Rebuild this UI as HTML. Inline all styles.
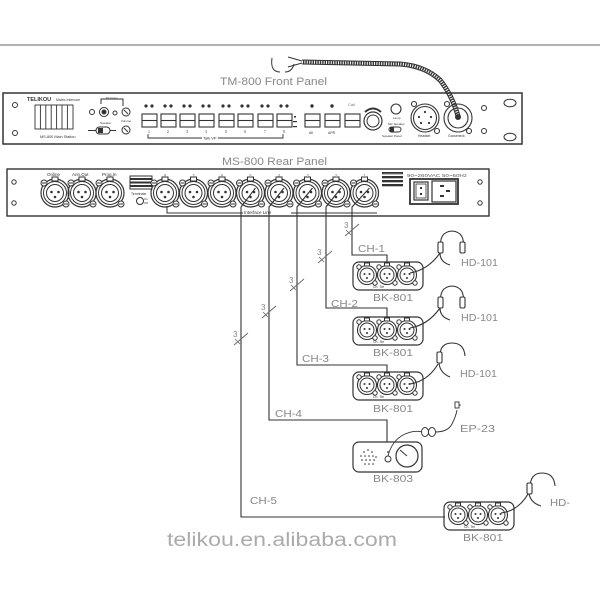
<!DOCTYPE html>
<html><head><meta charset="utf-8"><style>
html,body{margin:0;padding:0;background:#fff;}
svg{display:block;}
text{font-family:"Liberation Sans",sans-serif;}
</style></head><body>
<svg width="600" height="600" viewBox="0 0 600 600" xmlns="http://www.w3.org/2000/svg">
<defs>
  <g id="xr" fill="none" stroke="#333" stroke-width="1">
    <circle r="14" stroke-width="1.2"/>
    <circle r="11.5"/>
    <circle r="8.5"/>
    <rect x="-3" y="-16" width="6" height="4" fill="#fff"/>
    <circle cx="-11" cy="-10" r="3" fill="#fff"/>
    <line x1="-13" y1="-10" x2="-9" y2="-10"/>
    <circle cx="11" cy="11" r="3" fill="#fff"/>
    <line x1="9" y1="11" x2="13" y2="11"/>
    <circle cx="-3.5" cy="-1" r="1.3" fill="#333" stroke="none"/>
    <circle cx="3.5" cy="-1" r="1.3" fill="#333" stroke="none"/>
    <circle cx="0" cy="4" r="1.3" fill="#333" stroke="none"/>
  </g>
  <g id="bc" fill="none" stroke="#333" stroke-width="1">
    <circle r="9.5" stroke-width="1.1"/>
    <circle r="7"/>
    <rect x="-2.5" y="-12" width="5" height="3" fill="#fff"/>
    <circle cx="-8" cy="-8" r="2.2" fill="#fff"/>
    <circle cx="8" cy="8" r="2.2" fill="#fff"/>
    <circle cx="-2.5" cy="-1" r="1" fill="#333" stroke="none"/>
    <circle cx="2.5" cy="-1" r="1" fill="#333" stroke="none"/>
    <circle cx="0" cy="3" r="1" fill="#333" stroke="none"/>
  </g>
  <g id="bt" fill="none" stroke="#333" stroke-width="1.1">
    <rect x="0" y="0" width="15" height="13"/>
    <line x1="0" y1="6.5" x2="15" y2="6.5"/>
    <circle cx="4" cy="-8" r="1.6" fill="#333" stroke="none"/>
    <circle cx="10" cy="-8" r="1.6" fill="#333" stroke="none"/>
  </g>
  <g id="bk">
    <rect x="0" y="0" width="70" height="28" rx="6" fill="none" stroke="#333" stroke-width="1.2"/>
    <use href="#bc" x="14" y="13"/>
    <use href="#bc" x="34" y="13"/>
    <use href="#bc" x="54" y="13"/>
    <text x="20" y="26" font-size="3.5" fill="#333">Ch. Ter</text>
  </g>
  <g id="hs" fill="none" stroke="#333" stroke-width="1.1">
    <path d="M441,250 Q438,232 452,231 Q466,232 463,250"/>
    <rect x="438" y="242" width="5" height="11" rx="1.5" fill="#fff"/>
    <rect x="460" y="242" width="5" height="11" rx="1.5" fill="#fff"/>
    <path d="M440,253 Q440,262 450,265"/>
  </g>
  <g id="tk">
    <line x1="-7" y1="6" x2="7" y2="-6" stroke="#666" stroke-width="0.9"/>
    <line x1="-1" y1="5" x2="-6" y2="0" stroke="#666" stroke-width="0.8"/>
    <text x="-8" y="-2" font-size="8" fill="#888">3</text>
  </g>
</defs>

<!-- top line -->
<line x1="0" y1="45" x2="600" y2="45" stroke="#666" stroke-width="1"/>

<!-- Gooseneck mic -->
<path d="M302,62 L400,64 Q425,66 440,80 Q452,95 458,116" fill="none" stroke="#333" stroke-width="5"/>
<path d="M302,62 L400,64 Q425,66 440,80 Q452,95 458,116" fill="none" stroke="#fff" stroke-width="3" stroke-dasharray="1 1.4"/>
<path d="M272,58 Q270,72 280,72 M285,72 Q292,72 294,64" fill="none" stroke="#333" stroke-width="1"/>
<path d="M288,57 L302,61 M288,67 L302,63" fill="none" stroke="#333" stroke-width="1"/>

<text x="220" y="85" font-size="11" fill="#888" textLength="107" lengthAdjust="spacingAndGlyphs">TM-800 Front Panel</text>

<!-- FRONT PANEL -->
<rect x="3" y="93" width="519" height="51" fill="none" stroke="#333" stroke-width="1.5"/>
<circle cx="15" cy="105" r="2.5" fill="none" stroke="#333"/>
<circle cx="15" cy="133" r="2.5" fill="none" stroke="#333"/>
<text x="27" y="101" font-size="5.5" font-weight="bold" fill="#333">TELIKOU</text>
<text x="56" y="101" font-size="3.5" fill="#333">Matrix Intercom</text>
<g fill="none" stroke="#333" stroke-width="0.9">
  <rect x="35" y="105" width="38" height="24"/>
  <line x1="40.4" y1="105" x2="40.4" y2="129"/>
  <line x1="45.8" y1="105" x2="45.8" y2="129"/>
  <line x1="51.2" y1="105" x2="51.2" y2="129"/>
  <line x1="56.6" y1="105" x2="56.6" y2="129"/>
  <line x1="62" y1="105" x2="62" y2="129"/>
  <line x1="67.4" y1="105" x2="67.4" y2="129"/>
</g>
<text x="40" y="138" font-size="3.8" fill="#333">MS-800 Main Station</text>
<!-- left controls -->
<g fill="none" stroke="#333" stroke-width="1">
  <circle cx="92" cy="112" r="2.5"/>
  <circle cx="104" cy="112" r="4.5"/>
  <circle cx="104" cy="112" r="2" fill="#333"/>
  <circle cx="115" cy="113" r="2"/>
  <path d="M101,104 V99 H123 V106"/>
  <circle cx="126" cy="112" r="4"/>
  <line x1="124" y1="110" x2="128" y2="114"/>
  <rect x="96" y="127" width="14" height="7" rx="3.5"/>
  <line x1="88" y1="130.5" x2="96" y2="130.5"/>
  <line x1="110" y1="130.5" x2="116" y2="130.5"/>
  <circle cx="126" cy="130" r="4"/>
  <line x1="124" y1="128" x2="128" y2="132"/>
</g>
<rect x="98" y="128" width="5" height="5" fill="#333"/>
<text x="100" y="124" font-size="3" fill="#333">Speaker</text>
<text x="121" y="122" font-size="3" fill="#333">Volume</text>
<text x="106" y="99" font-size="3" fill="#333">Program</text>

<!-- talk buttons -->
<use href="#bt" x="142" y="114"/>
<use href="#bt" x="161" y="114"/>
<use href="#bt" x="180" y="114"/>
<use href="#bt" x="199" y="114"/>
<use href="#bt" x="219" y="114"/>
<use href="#bt" x="238" y="114"/>
<use href="#bt" x="258" y="114"/>
<use href="#bt" x="277" y="114"/>
<g font-size="4.5" fill="#777" text-anchor="middle">
  <text x="149" y="133">1</text><text x="168" y="133">2</text><text x="187" y="133">3</text><text x="206" y="133">4</text>
  <text x="226" y="133">5</text><text x="245" y="133">6</text><text x="265" y="133">7</text><text x="284" y="133">8</text>
</g>
<path d="M148,134 V138 H283 V134" fill="none" stroke="#333" stroke-width="0.9"/>
<rect x="202" y="135" width="16" height="5" fill="#fff"/>
<text x="203" y="139.5" font-size="4" fill="#333">Talk  VP</text>
<g fill="#333">
  <rect x="294" y="116" width="2" height="1.5"/>
  <rect x="293" y="121" width="4" height="1.2"/>
  <rect x="293" y="126" width="4" height="1.2"/>
</g>
<!-- all/apr/call buttons -->
<g fill="none" stroke="#333" stroke-width="1.1">
  <rect x="305" y="114" width="15" height="13"/><line x1="305" y1="120.5" x2="320" y2="120.5"/>
  <rect x="325" y="114" width="15" height="13"/><line x1="325" y1="120.5" x2="340" y2="120.5"/>
  <rect x="345" y="114" width="15" height="13"/><line x1="345" y1="120.5" x2="360" y2="120.5"/>
</g>
<circle cx="312" cy="106" r="1.7" fill="#333"/>
<circle cx="332" cy="106" r="1.7" fill="#333"/>
<text x="348" y="106" font-size="4" fill="#777">Call</text>
<text x="309" y="134" font-size="3.5" fill="#333">All</text>
<text x="328" y="134" font-size="3.5" fill="#333">APR</text>
<!-- knob -->
<path d="M365,112 Q373,105 381,112" fill="none" stroke="#333" stroke-width="2"/>
<circle cx="373" cy="121" r="9" fill="none" stroke="#333" stroke-width="1.2"/>
<circle cx="373" cy="121" r="6" fill="none" stroke="#333" stroke-width="1"/>
<circle cx="396" cy="109" r="5" fill="none" stroke="#333" stroke-width="1.1"/>
<text x="393" y="119" font-size="3" fill="#333">Lamp</text>
<text x="388" y="125" font-size="3" fill="#333">Mic  Speaker</text>
<rect x="389" y="127" width="12" height="5" rx="2.5" fill="none" stroke="#333"/>
<rect x="390" y="127" width="4" height="5" fill="#333"/>
<text x="382" y="137" font-size="3" fill="#333">Speaker   Panel</text>
<!-- headset xlr -->
<g fill="none" stroke="#333" stroke-width="1.1">
  <circle cx="425" cy="118" r="14"/>
  <circle cx="425" cy="118" r="11.5"/>
  <circle cx="414" cy="104" r="2.5" fill="#fff"/>
  <circle cx="437" cy="131" r="2.5" fill="#fff"/>
  <circle cx="458" cy="118" r="14"/>
  <circle cx="458" cy="118" r="10"/>
  <circle cx="447" cy="104" r="2.5" fill="#fff"/>
  <circle cx="469" cy="131" r="2.5" fill="#fff"/>
</g>
<g fill="#333">
  <circle cx="425" cy="112" r="1.1"/><circle cx="419" cy="117" r="1.1"/><circle cx="431" cy="117" r="1.1"/>
  <circle cx="421" cy="123" r="1.1"/><circle cx="429" cy="123" r="1.1"/>
  <circle cx="458" cy="117" r="3"/>
</g>
<text x="418" y="137" font-size="3.3" fill="#333">Headset</text>
<text x="448" y="137" font-size="3.3" fill="#333">Gooseneck</text>
<circle cx="484" cy="108" r="2.5" fill="none" stroke="#333"/>
<circle cx="484" cy="131" r="2.5" fill="none" stroke="#333"/>
<ellipse cx="510" cy="103" rx="6" ry="3.8" fill="none" stroke="#333"/>
<ellipse cx="510" cy="137" rx="6" ry="3.8" fill="none" stroke="#333"/>

<text x="222" y="165" font-size="11" fill="#888" textLength="105" lengthAdjust="spacingAndGlyphs">MS-800 Rear Panel</text>

<!-- REAR PANEL -->
<rect x="7" y="169" width="482" height="47" fill="none" stroke="#333" stroke-width="1.4"/>
<circle cx="14" cy="182" r="2.2" fill="none" stroke="#333"/>
<circle cx="14" cy="203" r="2.2" fill="none" stroke="#333"/>
<circle cx="480" cy="182" r="2.2" fill="none" stroke="#333"/>
<circle cx="480" cy="203" r="2.2" fill="none" stroke="#333"/>
<use href="#xr" x="55" y="193"/>
<use href="#xr" x="82" y="193"/>
<use href="#xr" x="110" y="193"/>
<text x="47" y="176" font-size="4.5" fill="#333">Online</text>
<text x="72" y="176" font-size="4.5" fill="#333">Ann.Out</text>
<text x="102" y="176" font-size="4.5" fill="#333">Prog.In</text>
<g fill="none" stroke="#333" stroke-width="1">
  <rect x="130" y="176" width="22" height="2.5"/>
  <rect x="130" y="179.5" width="22" height="2.5"/>
  <rect x="130" y="183" width="22" height="2.5"/>
  <rect x="130" y="186.5" width="22" height="2.5"/>
  <circle cx="140" cy="201" r="3.5"/>
</g>
<text x="131" y="195" font-size="3.5" fill="#333">Terminate</text>
<text x="144" y="200" font-size="3" fill="#333">On</text>
<text x="144" y="204" font-size="3" fill="#333">Off</text>

<use href="#xr" x="165" y="193"/>
<use href="#xr" x="193.5" y="193"/>
<use href="#xr" x="222" y="193"/>
<use href="#xr" x="250.5" y="193"/>
<use href="#xr" x="279" y="193"/>
<use href="#xr" x="307.5" y="193"/>
<use href="#xr" x="336" y="193"/>
<use href="#xr" x="364.5" y="193"/>
<g font-size="4.5" fill="#777" text-anchor="middle">
  <text x="165" y="177">8</text><text x="193.5" y="177">7</text><text x="222" y="177">6</text><text x="250.5" y="177">5</text>
  <text x="279" y="177">4</text><text x="307.5" y="177">3</text><text x="336" y="177">2</text><text x="364.5" y="177">1</text>
</g>
<!-- interface line -->
<path d="M167,206 V213 H377" fill="none" stroke="#333" stroke-width="1"/>
<rect x="243" y="209" width="48" height="6" fill="#fff"/>
<text x="244" y="214" font-size="4.5" fill="#333">Interface Line</text>

<g fill="#333">
  <rect x="382" y="172" width="21" height="2.3"/>
  <rect x="382" y="176" width="21" height="2.3"/>
  <rect x="382" y="180" width="21" height="2.3"/>
  <rect x="382" y="184" width="21" height="2.3"/>
</g>
<g fill="#fff" stroke="#333">
  <rect x="383" y="173" width="19" height="0.6" stroke-width="0.4"/>
</g>
<text x="407" y="177" font-size="4.5" fill="#555" textLength="60" lengthAdjust="spacingAndGlyphs">90~260VAC 50~60Hz</text>
<rect x="410" y="179" width="48" height="25" fill="none" stroke="#333" stroke-width="1.8"/>
<rect x="414" y="182" width="14" height="18" fill="none" stroke="#333" stroke-width="1.2"/>
<rect x="416" y="184" width="10" height="14" fill="none" stroke="#333" stroke-width="0.8"/>
<rect x="420" y="187" width="2" height="2" fill="#333"/>
<rect x="420" y="193" width="2" height="2" fill="#333"/>
<rect x="432" y="181" width="24" height="21" fill="none" stroke="#333" stroke-width="1.2"/>
<rect x="440" y="185" width="4" height="2" fill="#333"/>
<rect x="446" y="190" width="4" height="2" fill="#333"/>
<rect x="440" y="195" width="4" height="2" fill="#333"/>

<!-- channel wiring -->
<g fill="none" stroke="#333" stroke-width="1.1">
  <path d="M255.5,188 L241,207 V517 H445"/>
  <path d="M284,188 L269,207 V420 H387 V442"/>
  <path d="M312.5,188 L297,207 V365 H387 V376"/>
  <path d="M341,188 L326,207 V308 H387 V321"/>
  <path d="M369.5,188 L352,207 V255 H387 V266"/>
</g>
<use href="#tk" x="352" y="230"/>
<use href="#tk" x="325" y="257"/>
<use href="#tk" x="297" y="285"/>
<use href="#tk" x="269" y="312"/>
<use href="#tk" x="241" y="339"/>

<g font-size="10" fill="#888">
  <text x="358" y="252" textLength="27" lengthAdjust="spacingAndGlyphs">CH-1</text>
  <text x="331" y="307" textLength="27" lengthAdjust="spacingAndGlyphs">CH-2</text>
  <text x="302" y="362" textLength="27" lengthAdjust="spacingAndGlyphs">CH-3</text>
  <text x="275" y="417" textLength="27" lengthAdjust="spacingAndGlyphs">CH-4</text>
  <text x="250" y="504" textLength="27" lengthAdjust="spacingAndGlyphs">CH-5</text>
</g>

<!-- BK-801 boxes -->
<use href="#bk" x="353" y="262"/>
<use href="#bk" x="353" y="317"/>
<use href="#bk" x="353" y="372"/>
<use href="#bk" x="444" y="502"/>
<g font-size="10" fill="#888">
  <text x="373" y="301" textLength="40" lengthAdjust="spacingAndGlyphs">BK-801</text>
  <text x="373" y="356" textLength="40" lengthAdjust="spacingAndGlyphs">BK-801</text>
  <text x="373" y="412" textLength="40" lengthAdjust="spacingAndGlyphs">BK-801</text>
  <text x="373" y="482" textLength="40" lengthAdjust="spacingAndGlyphs">BK-803</text>
  <text x="463" y="541" textLength="40" lengthAdjust="spacingAndGlyphs">BK-801</text>
  <text x="461" y="266" textLength="37" lengthAdjust="spacingAndGlyphs">HD-101</text>
  <text x="461" y="321" textLength="37" lengthAdjust="spacingAndGlyphs">HD-101</text>
  <text x="460" y="377" textLength="37" lengthAdjust="spacingAndGlyphs">HD-101</text>
  <text x="460" y="432" textLength="35" lengthAdjust="spacingAndGlyphs">EP-23</text>
  <text x="550" y="506" textLength="20" lengthAdjust="spacingAndGlyphs">HD-</text>
</g>

<!-- headsets -->
<use href="#hs"/>
<use href="#hs" y="55"/>
<g fill="none" stroke="#333" stroke-width="1.1">
  <path d="M410,273 Q428,270 440,253"/>
  <path d="M410,328 Q428,325 440,308"/>
  <!-- single-ear headset 3 -->
  <path d="M440,356 Q440,343 452,343 Q464,343 465,356"/>
  <rect x="437" y="352" width="5" height="11" rx="1.5" fill="#fff"/>
  <path d="M439,363 Q440,373 450,377"/>
  <path d="M410,384 Q428,381 438,364"/>
  <!-- headset 4 -->
  <path d="M530,488 Q530,473 542,473 Q554,473 555,486"/>
  <rect x="527" y="483" width="5" height="11" rx="1.5" fill="#fff"/>
  <path d="M529,494 Q531,503 541,506"/>
  <path d="M501,513 Q518,511 528,494"/>
</g>

<!-- BK-803 -->
<rect x="353" y="442" width="69" height="30" rx="6" fill="none" stroke="#333" stroke-width="1.2"/>
<g fill="#333">
  <circle cx="368" cy="450" r="0.8"/><circle cx="364" cy="452" r="0.8"/><circle cx="372" cy="452" r="0.8"/>
  <circle cx="361" cy="456" r="0.8"/><circle cx="365" cy="456" r="0.8"/><circle cx="369" cy="456" r="0.8"/><circle cx="373" cy="456" r="0.8"/><circle cx="376" cy="457" r="0.8"/>
  <circle cx="362" cy="460" r="0.8"/><circle cx="366" cy="460" r="0.8"/><circle cx="370" cy="460" r="0.8"/><circle cx="374" cy="460" r="0.8"/>
  <circle cx="365" cy="464" r="0.8"/><circle cx="369" cy="464" r="0.8"/><circle cx="373" cy="464" r="0.8"/>
  <circle cx="388" cy="452" r="0.9"/>
</g>
<circle cx="388" cy="459" r="3" fill="none" stroke="#333"/>
<circle cx="407" cy="456" r="11" fill="none" stroke="#333" stroke-width="1.2"/>
<line x1="407" y1="456" x2="400" y2="450" stroke="#333"/>
<!-- EP-23 cord -->
<g fill="none" stroke="#333" stroke-width="0.9">
  <path d="M388,456 Q392,440 405,434 Q415,430 422,432"/>
  <ellipse cx="425" cy="432" rx="3.5" ry="4.5"/>
  <ellipse cx="432" cy="432" rx="3.5" ry="4.5"/>
  <path d="M435,432 Q448,432 452,424 Q456,416 457,410"/>
  <rect x="455" y="402" width="4" height="6" fill="#fff"/>
  <line x1="459" y1="405" x2="461" y2="405"/>
</g>

<!-- watermark -->
<text x="167" y="546" font-size="19" fill="#ababab" textLength="230" lengthAdjust="spacingAndGlyphs">telikou.en.alibaba.com</text>
</svg>
</body></html>
